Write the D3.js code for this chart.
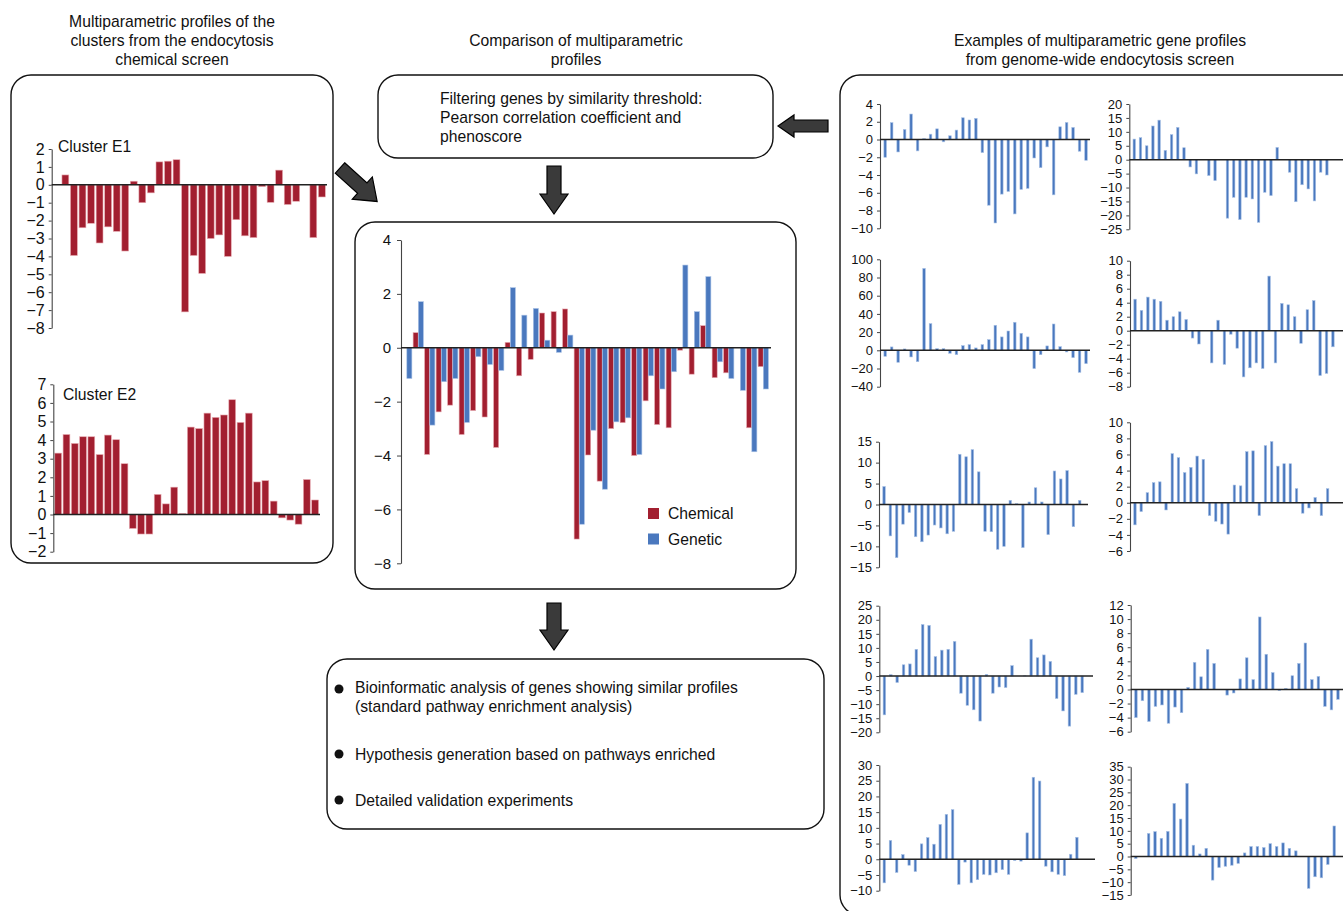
<!DOCTYPE html>
<html><head><meta charset="utf-8">
<script src="https://cdn.jsdelivr.net/npm/d3@7"></script>
<style>
body{margin:0;background:#fff}
svg{display:block;font-family:"Liberation Sans",Arial,Helvetica,sans-serif}
</style>
</head><body><svg id="c" width="1343" height="911"></svg>
<script>
// ---------------- DATA ----------------
const clusterE1 = [0, 0.55, -3.95, -2.4, -2.15, -3.25, -2.35, -2.6, -3.7, 0.2, -1.0, -0.45, 1.28, 1.32, 1.4, -7.1, -3.95, -4.95, -3.0, -2.8, -4.0, -1.95, -2.85, -2.95, -0.1, -0.98, 0.82, -1.1, -0.92, 0, -2.95, -0.68];
const clusterE2 = [3.3, 4.3, 3.82, 4.18, 4.18, 3.22, 4.27, 4.02, 2.73, -0.75, -1.05, -1.05, 1.08, 0.57, 1.47, 0.05, 4.7, 4.62, 5.45, 5.22, 5.35, 6.17, 4.95, 5.45, 1.75, 1.82, 0.72, -0.18, -0.3, -0.52, 1.88, 0.78];
const e1Ticks = [2, 1, 0, -1, -2, -3, -4, -5, -6, -7, -8];
const e2Ticks = [7, 6, 5, 4, 3, 2, 1, 0, -1, -2];

const seriesNames = ["Chemical", "Genetic"];
const chemical = [0, 0.56, -3.96, -2.38, -2.13, -3.22, -2.33, -2.57, -3.7, 0.2, -1.04, -0.43, 1.29, 1.34, 1.44, -7.1, -3.98, -4.95, -3.0, -2.78, -4.0, -1.97, -2.85, -2.97, -0.09, -0.98, 0.82, -1.11, -0.93, 0, -2.97, -0.7];
const genetic = [-1.14, 1.71, -2.87, -1.26, -1.14, -2.77, -0.33, -0.62, -0.84, 2.23, 1.21, 1.46, 0.28, -0.17, 0.47, -6.55, -3.06, -5.25, -2.75, -2.6, -3.96, -1.04, -1.53, -0.89, 3.07, 1.34, 2.64, -0.52, -1.14, -1.58, -3.86, -1.53];
const compTicks = [4, 2, 0, -2, -4, -6, -8];

const gene1 = [-2.0, 1.9, -1.4, 1.13, 2.87, -1.28, 0.1, 0.6, 1.2, -0.26, 0.42, 1.06, 2.45, 2.2, 2.38, -1.47, -7.4, -9.4, -6.15, -5.85, -8.38, -5.62, -5.5, -2.08, -3.17, -0.83, -6.23, 1.43, 1.92, 1.36, -1.32, -2.34];
const gene2 = [7.4, 7.9, 5.0, 12.1, 14.2, 3.35, 9.0, 11.6, 4.3, -2.6, -5.1, 0, -5.7, -7.5, 0, -21.0, -13.5, -21.5, -13.5, -14.1, -22.5, -11.7, -12.9, 4.4, 0, -4.5, -15.1, -9.0, -10.5, -14.8, -4.5, -5.5];
const gene3 = [-6.6, 3.7, -13.2, 1.5, -7.3, -12.5, 90, 29.3, 1.8, 1.8, -3.3, -4.8, 5.1, 6.2, 2.6, 6.2, 11.7, 27.5, 14.7, 21.2, 30.8, 18.7, 14.7, -20.1, -4.8, 4.8, 28.9, 4.0, -1.8, -8.1, -24.2, -14.7];
const gene4 = [4.5, 2.9, 4.8, 4.5, 4.2, 1.5, 2.0, 2.7, 1.6, -1.05, -1.9, 0, -4.6, 1.5, -4.8, -0.5, -2.5, -6.6, -5.3, -4.6, -5.4, 7.8, -4.6, 3.9, 3.7, 2.0, -1.8, 3.0, 4.3, -6.4, -6.1, -2.3];
const gene5 = [4.3, -7.5, -12.7, -4.7, -1.9, -7.7, -8.9, -7.3, -4.9, -5.6, -7.0, -6.4, 12.0, 11.4, 13.1, 7.8, -6.4, -6.5, -10.7, -10.0, 1.0, 0.2, -10.3, 0.6, 4.0, 0.6, -7.2, 8.0, 6.1, 8.1, -5.3, 1.0];
const gene6 = [-2.75, -1.1, 1.25, 2.5, 2.6, -0.9, 6.1, 5.6, 3.75, 4.4, 5.8, 5.4, -1.6, -2.3, -2.65, -3.9, 2.2, 2.1, 6.35, 6.45, -1.6, 7.1, 7.6, 4.55, 4.85, 4.85, 1.75, -1.3, -0.65, 0.65, -1.6, 1.75];
const gene7 = [-13.8, 0.5, -2.3, 4.0, 4.3, 9.5, 18.3, 18.0, 6.9, 9.2, 9.5, 12.3, -6.1, -10.4, -12.0, -16.0, 0.6, -6.1, -3.9, -4.1, 3.7, 0, 0.1, 13.1, 6.5, 7.5, 5.2, -8.0, -12.4, -17.8, -6.5, -5.9];
const gene8 = [-4.0, -1.6, -4.55, -2.4, -2.2, -4.8, -2.5, -3.3, 0.3, 3.85, 1.8, 5.7, 3.7, 0, -0.8, -0.5, 1.5, 4.5, 1.4, 10.3, 5.0, 2.4, -0.15, 0.15, 1.95, 3.7, 6.6, 1.4, 1.85, -2.4, -2.9, -1.4];
const gene9 = [-7.5, 6.0, -4.2, 1.5, -1.9, -3.9, 4.9, 6.9, 4.8, 11.1, 14.3, 15.8, -8.0, -0.9, -7.5, -6.5, -4.8, -5.0, -4.3, -3.3, -4.8, -0.4, -0.6, 8.4, 26.1, 24.9, -2.2, -4.0, -4.8, -5.2, 1.6, 7.0];
const gene10 = [-0.8, 0, 9.0, 9.7, 7.1, 9.8, 20.7, 14.6, 28.5, 4.4, 1.0, 3.2, -9.2, -4.3, -3.8, -3.4, -2.7, 1.4, 3.9, 3.9, 3.5, 5.0, 3.9, 5.3, 3.2, 2.2, 0, -12.4, -7.9, -8.3, -3.1, 11.9];
const gene1Ticks = [4, 2, 0, -2, -4, -6, -8, -10];
const gene2Ticks = [20, 15, 10, 5, 0, -5, -10, -15, -20, -25];
const gene3Ticks = [100, 80, 60, 40, 20, 0, -20, -40];
const gene4Ticks = [10, 8, 6, 4, 2, 0, -2, -4, -6, -8];
const gene5Ticks = [15, 10, 5, 0, -5, -10, -15];
const gene6Ticks = [10, 8, 6, 4, 2, 0, -2, -4, -6];
const gene7Ticks = [25, 20, 15, 10, 5, 0, -5, -10, -15, -20];
const gene8Ticks = [12, 10, 8, 6, 4, 2, 0, -2, -4, -6];
const gene9Ticks = [30, 25, 20, 15, 10, 5, 0, -5, -10];
const gene10Ticks = [35, 30, 25, 20, 15, 10, 5, 0, -5, -10, -15];

// ---------------- STYLE ----------------
const RED = "#a21f30", RED_EDGE = "#e7a9b0";
const BLUE = "#4a78be", BLUE_EDGE = "#a9c2e6";
const FS = 15.7;
const fmt = d3.format("d");
const svg = d3.select("#c");

// ---------------- HELPERS ----------------
function box(x, y, w, h, r) {
  svg.append("rect").attr("x", x).attr("y", y).attr("width", w).attr("height", h)
    .attr("rx", r).attr("ry", r).attr("fill", "none").attr("stroke", "#111").attr("stroke-width", 1.4);
}
function lines(arr, x, y0, dy, anchor, size) {
  const t = svg.append("text").attr("font-size", size).attr("fill", "#111").attr("text-anchor", anchor);
  arr.forEach((s, i) => t.append("tspan").attr("x", x).attr("y", y0 + i * dy).text(s));
}
function arrow(tx, ty, ang, L, sw, hw, hl) {
  const p = [[0, -sw/2], [L-hl, -sw/2], [L-hl, -hw/2], [L, 0], [L-hl, hw/2], [L-hl, sw/2], [0, sw/2]];
  svg.append("path").attr("d", d3.line()(p) + "Z")
    .attr("transform", `translate(${tx},${ty}) rotate(${ang})`)
    .attr("fill", "#3a3a3a").attr("stroke", "#000").attr("stroke-width", 1.2).attr("stroke-linejoin", "miter");
}
function styleAxis(g, fs) {
  g.select(".domain").attr("stroke", "#444").attr("stroke-width", 1.1);
  g.selectAll(".tick line").attr("stroke", "#444");
  g.selectAll(".tick text").attr("font-size", fs).attr("fill", "#111")
    .attr("font-family", "'Liberation Sans',Arial,Helvetica,sans-serif");
}
function barChart(data, ticks, ax, yTop, yBot, xEnd, fs, color, edge, pad, step) {
  const y = d3.scaleLinear().domain([d3.min(ticks), d3.max(ticks)]).range([yBot, yTop]);
  const right = step ? ax + step * data.length : xEnd;
  const x = d3.scaleBand().domain(d3.range(data.length)).range([ax, right]).padding(pad);
  const g = svg.append("g");
  g.selectAll("rect").data(data).join("rect")
    .attr("x", (d, i) => x(i)).attr("width", x.bandwidth())
    .attr("y", d => Math.min(y(d), y(0))).attr("height", d => Math.abs(y(d) - y(0)))
    .attr("fill", color).attr("stroke", edge).attr("stroke-width", 0.6);
  const a = svg.append("g").attr("transform", `translate(${ax},0)`)
    .call(d3.axisLeft(y).tickValues(ticks).tickFormat(fmt).tickSize(3).tickSizeOuter(0).tickPadding(4));
  styleAxis(a, fs);
  svg.append("line").attr("x1", ax).attr("x2", xEnd).attr("y1", y(0)).attr("y2", y(0))
    .attr("stroke", "#222").attr("stroke-width", 1.4);
}

// ---------------- TITLES ----------------
lines(["Multiparametric profiles of the", "clusters from the endocytosis", "chemical screen"], 172, 27, 19, "middle", FS);
lines(["Comparison of multiparametric", "profiles"], 576, 46, 19, "middle", FS);
lines(["Examples of multiparametric gene profiles", "from genome-wide endocytosis screen"], 1100, 46, 19, "middle", FS);

// ---------------- BOXES ----------------
box(11, 75, 322, 488, 20);
box(378, 75, 395, 83, 20);
box(355, 222, 441, 367, 20);
box(327, 659, 497, 170, 20);
box(840, 75, 540, 840, 20);

lines(["Filtering genes by similarity threshold:", "Pearson correlation coefficient and", "phenoscore"], 440, 103.5, 19, "start", FS);

// ---------------- ARROWS ----------------
arrow(340, 168, 42, 50, 14, 30, 20);
arrow(828, 126, 180, 50, 12, 22, 16);
arrow(554, 166, 90, 48, 14, 28, 20);
arrow(554, 603, 90, 47, 14, 28, 20);

// ---------------- LEFT: CLUSTERS ----------------
barChart(clusterE1, e1Ticks, 51.7, 149, 328, 327, 16, RED, RED_EDGE, 0.2);
svg.append("text").attr("x", 58).attr("y", 152).attr("font-size", FS).attr("fill", "#111").text("Cluster E1");
barChart(clusterE2, e2Ticks, 53.3, 384.3, 551.7, 320, 16, RED, RED_EDGE, 0.18);
svg.append("text").attr("x", 63).attr("y", 400).attr("font-size", FS).attr("fill", "#111").text("Cluster E2");

// ---------------- CENTER: COMPARISON ----------------
(function () {
  const ax = 401, right = 401 + 32 * 11.5;
  const y = d3.scaleLinear().domain([d3.min(compTicks), d3.max(compTicks)]).range([563.3, 240]);
  const x = d3.scaleBand().domain(d3.range(chemical.length)).range([ax, right]).paddingInner(0.08).paddingOuter(0.04);
  const xs = d3.scaleBand().domain(seriesNames).range([0, x.bandwidth()]).padding(0.03);
  const col = d3.scaleOrdinal().domain(seriesNames).range([RED, BLUE]);
  const edge = d3.scaleOrdinal().domain(seriesNames).range([RED_EDGE, BLUE_EDGE]);
  const rows = chemical.map((c, i) => ({ i, vals: [{ s: "Chemical", v: c }, { s: "Genetic", v: genetic[i] }] }));
  svg.append("g").selectAll("g").data(rows).join("g")
    .attr("transform", d => `translate(${x(d.i)},0)`)
    .selectAll("rect").data(d => d.vals).join("rect")
    .attr("x", d => xs(d.s)).attr("width", xs.bandwidth())
    .attr("y", d => Math.min(y(d.v), y(0))).attr("height", d => Math.abs(y(d.v) - y(0)))
    .attr("fill", d => col(d.s)).attr("stroke", d => edge(d.s)).attr("stroke-width", 0.6);
  const a = svg.append("g").attr("transform", `translate(${ax},0)`)
    .call(d3.axisLeft(y).tickValues(compTicks).tickFormat(fmt).tickSize(4).tickSizeOuter(0).tickPadding(6));
  styleAxis(a, 15);
  svg.append("line").attr("x1", ax).attr("x2", right + 2).attr("y1", y(0)).attr("y2", y(0))
    .attr("stroke", "#222").attr("stroke-width", 1.4);
  const lg = svg.append("g").selectAll("g").data(seriesNames).join("g")
    .attr("transform", (d, i) => `translate(648,${508 + i * 25.5})`);
  lg.append("rect").attr("width", 11).attr("height", 11).attr("fill", d => col(d));
  lg.append("text").attr("x", 20).attr("y", 11).attr("font-size", FS).attr("fill", "#111").text(d => d);
})();

// ---------------- BOTTOM BOX ----------------
[689, 754, 800].forEach(cy => svg.append("circle").attr("cx", 339).attr("cy", cy).attr("r", 4.5).attr("fill", "#111"));
lines(["Bioinformatic analysis of genes showing similar profiles", "(standard pathway enrichment analysis)"], 355, 692.5, 19, "start", FS);
lines(["Hypothesis generation based on pathways enriched"], 355, 759.5, 19, "start", FS);
lines(["Detailed validation experiments"], 355, 805.5, 19, "start", FS);

// ---------------- RIGHT: GENE PROFILES ----------------
const panels = [
  [gene1, gene1Ticks, 880, 104, 228.3, 1090, 6.6],
  [gene2, gene2Ticks, 1129.3, 104, 229.3, 1343, 6.33],
  [gene3, gene3Ticks, 880, 259.3, 386.7, 1090, 6.6],
  [gene4, gene4Ticks, 1130, 260.7, 386.7, 1343, 6.5],
  [gene5, gene5Ticks, 879, 441.7, 567.3, 1088, 6.43],
  [gene6, gene6Ticks, 1130, 422.3, 551, 1343, 6.33],
  [gene7, gene7Ticks, 879.3, 605.7, 732.3, 1093, 6.5],
  [gene8, gene8Ticks, 1130.7, 605, 731.7, 1343, 6.64],
  [gene9, gene9Ticks, 879.3, 765, 890.7, 1095, 6.33],
  [gene10, gene10Ticks, 1130.7, 766.7, 895, 1343, 6.52]
];
panels.forEach(p => barChart(p[0], p[1], p[2], p[3], p[4], p[5], 13, BLUE, BLUE_EDGE, 0.6, p[6]));
</script>
</body></html>
